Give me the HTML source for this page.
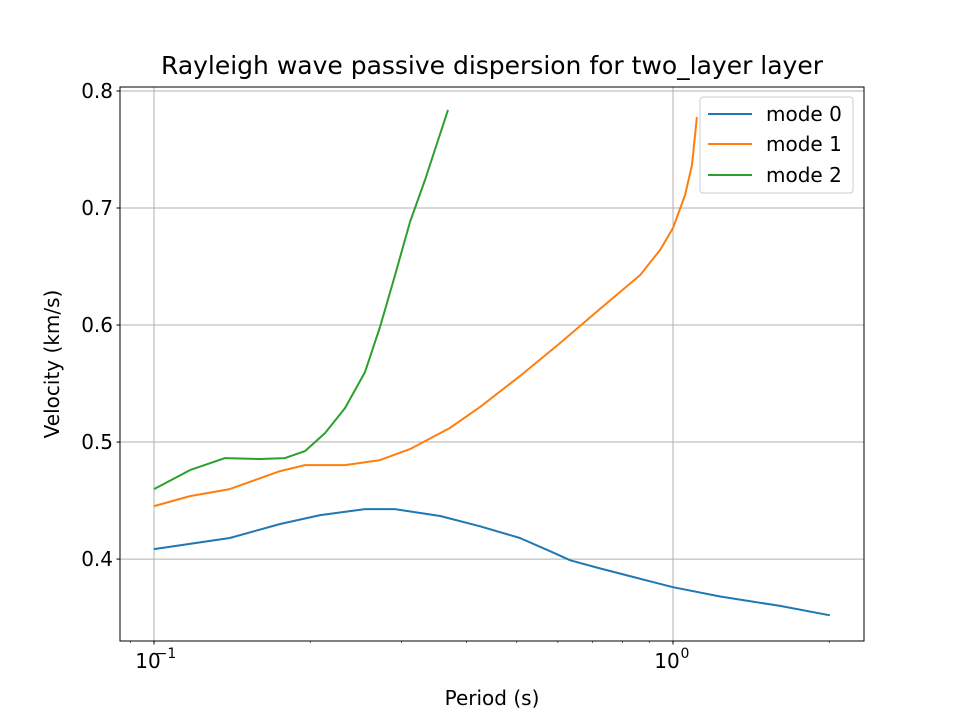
<!DOCTYPE html>
<html><head><meta charset="utf-8"><style>
body{margin:0;background:#fff;}
svg text{font-family:"DejaVu Sans","Liberation Sans",sans-serif;fill:#000;}
</style></head><body>
<svg id="chart" width="960" height="720" xmlns="http://www.w3.org/2000/svg">
<rect width="960" height="720" fill="#fff"/>
<text x="492" y="74" font-size="25" text-anchor="middle" textLength="662">Rayleigh wave passive dispersion for two_layer layer</text>
<g id="grid"></g>
<g id="series"></g>
<rect x="120" y="87" width="744" height="554" fill="none" stroke="#000" stroke-width="1"/>
<g id="axes"></g>
<text x="492" y="705" font-size="20" text-anchor="middle">Period (s)</text>
<text transform="translate(59,364) rotate(-90)" font-size="20" text-anchor="middle">Velocity (km/s)</text>
<g>
<rect x="700" y="97" width="153" height="96" rx="3" fill="#fff" fill-opacity="0.8" stroke="#ccc"/>
<line x1="708" y1="114" x2="752" y2="114" stroke="#1f77b4" stroke-width="2"/>
<text x="766" y="121" font-size="20">mode 0</text>
<line x1="708" y1="144" x2="752" y2="144" stroke="#ff7f0e" stroke-width="2"/>
<text x="766" y="151" font-size="20">mode 1</text>
<line x1="708" y1="175" x2="752" y2="175" stroke="#2ca02c" stroke-width="2"/>
<text x="766" y="182" font-size="20">mode 2</text>
</g>
</svg>
<script>
const mode0Period=[0.1,0.140,0.175,0.209,0.255,0.291,0.356,0.425,0.507,0.579,0.634,0.723,0.903,1.0,1.233,1.608,2.006];
const mode0Velocity=[0.4085,0.418,0.430,0.4376,0.4427,0.4427,0.4368,0.428,0.418,0.4068,0.399,0.392,0.381,0.376,0.368,0.360,0.352];
const mode1Period=[0.1,0.1173,0.140,0.175,0.1954,0.2334,0.2726,0.3113,0.3717,0.425,0.507,0.6057,0.723,0.864,0.944,1.0,1.055,1.088,1.112];
const mode1Velocity=[0.4453,0.4538,0.4598,0.4752,0.4803,0.4803,0.4846,0.494,0.512,0.530,0.5564,0.5846,0.6137,0.6427,0.664,0.6829,0.7111,0.7368,0.7778];
const mode2Period=[0.1,0.1173,0.137,0.160,0.1788,0.1954,0.2136,0.2334,0.255,0.2726,0.291,0.3113,0.3328,0.3685];
const mode2Velocity=[0.4598,0.476,0.4863,0.4855,0.4863,0.4923,0.5077,0.529,0.5598,0.5983,0.6419,0.688,0.7239,0.7838];
const yTicks=[0.4,0.5,0.6,0.7,0.8];
const xMajorTicks=[0.1,1];
const xMajorLabels=["10","10"];
const xMinorTicks=[0.09,0.2,0.3,0.4,0.5,0.6,0.7,0.8,0.9,2];
const NS="http://www.w3.org/2000/svg";
const L=120,R=864,T=87,B=641;
const xLo=-1.0655,xHi=0.368,yLo=0.33,yHi=0.8034;
function xs(p){return L+(Math.log10(p)-xLo)/(xHi-xLo)*(R-L);}
function ys(v){return B-(v-yLo)/(yHi-yLo)*(B-T);}
function mk(tag,attrs,parent){const e=document.createElementNS(NS,tag);for(const k in attrs)e.setAttribute(k,attrs[k]);parent.appendChild(e);return e;}
const grid=document.getElementById('grid'),axes=document.getElementById('axes'),series=document.getElementById('series');
yTicks.forEach(v=>{const y=ys(v);
 const g=mk('line',{x1:L,x2:R,y1:y,y2:y,stroke:'#b0b0b0','stroke-width':1},grid);
 
 
 mk('line',{x1:L-3.5,x2:L,y1:y,y2:y,stroke:'#000'},axes);
 const t=mk('text',{x:L-7,y:y+7,'font-size':20,'text-anchor':'end'},axes);t.textContent=v.toFixed(1);
 
 
});
xMajorTicks.forEach((p,i)=>{const x=xs(p);
 const g=mk('line',{x1:x,x2:x,y1:T,y2:B,stroke:'#b0b0b0','stroke-width':1},grid);
 
 
 mk('line',{x1:x,x2:x,y1:B,y2:B+3.5,stroke:'#000'},axes);
 const t=mk('text',{x:x-6,y:B+27,'font-size':20,'text-anchor':'middle'},axes);
 
 
 t.textContent=xMajorLabels[i];
 const s=mk('text',{x:x+12,y:B+17,'font-size':14,'text-anchor':'middle'},axes);
 s.textContent=Math.round(Math.log10(p))===0?'0':'\u22121';
});
xMinorTicks.forEach(p=>{const x=xs(p);if(x<L||x>R)return;mk('line',{x1:x,x2:x,y1:B,y2:B+2,stroke:'#000','stroke-width':0.6},axes);});
function draw(px,vy,color,name){
 const d=px.map((p,i)=>(i?'L':'M')+xs(p).toFixed(1)+','+ys(vy[i]).toFixed(1)).join(' ');
 const e=mk('path',{d:d,fill:'none',stroke:color,'stroke-width':2,'stroke-linejoin':'round'},series);
 
 
}
draw(mode0Period,mode0Velocity,'#1f77b4','mode-0-line');
draw(mode1Period,mode1Velocity,'#ff7f0e','mode-1-line');
draw(mode2Period,mode2Velocity,'#2ca02c','mode-2-line');
</script>
</body></html>
